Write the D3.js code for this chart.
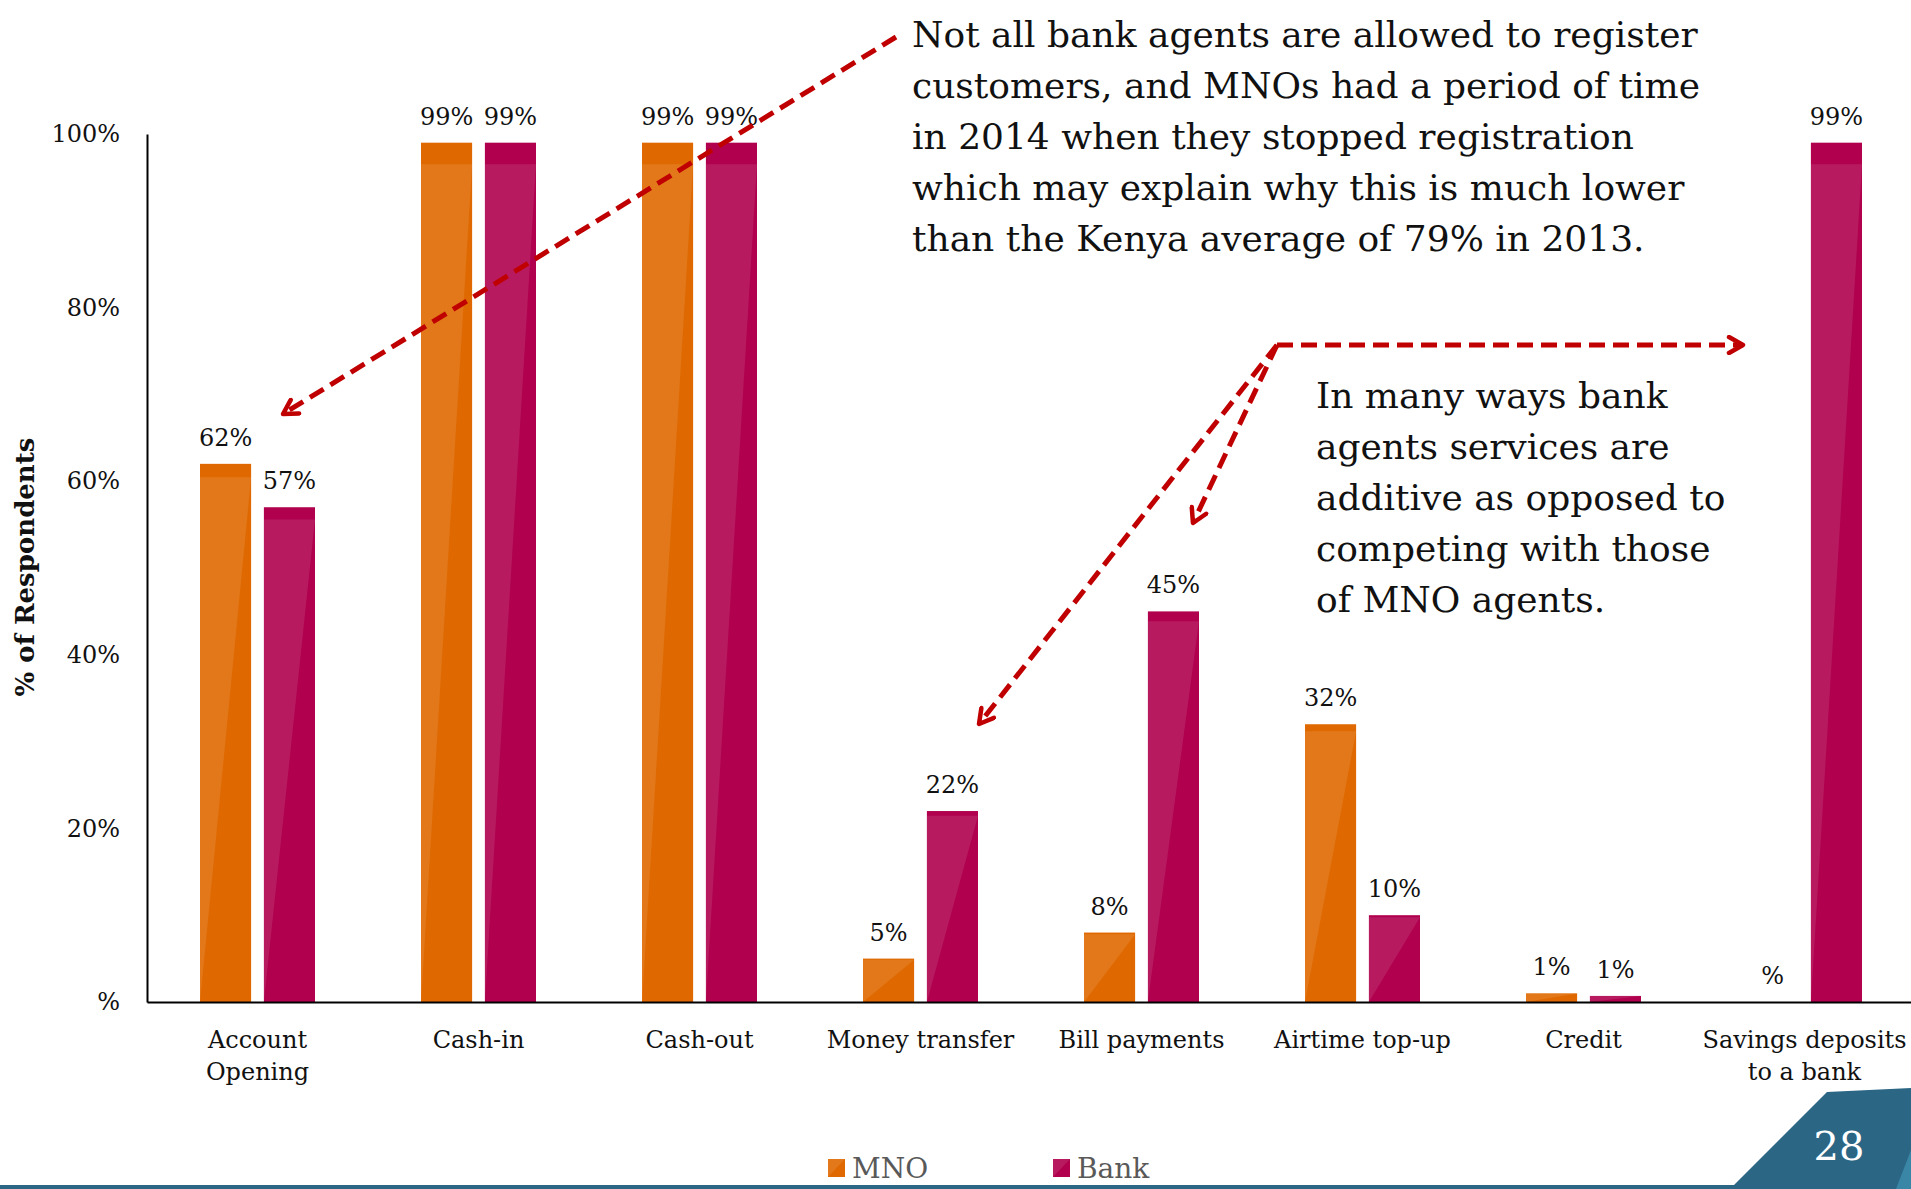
<!DOCTYPE html>
<html>
<head>
<meta charset="utf-8">
<script src="https://cdn.jsdelivr.net/npm/d3@7"></script>
<style>
  body { margin: 0; background: #fff; }
  svg { display: block; }
  text { font-family: "DejaVu Serif", Georgia, serif; }
</style>
</head>
<body>
<div id="chart"></div>
<script>
// data
var categories = ["Account\nOpening", "Cash-in", "Cash-out", "Money transfer",
                  "Bill payments", "Airtime top-up", "Credit", "Savings deposits\nto a bank"];
var seriesNames = ["MNO", "Bank"];
var mnoValues = [62, 99, 99, 5, 8, 32, 1, 0];
var bankValues = [57, 99, 99, 22, 45, 10, 0.7, 99];
var yTicks = [0, 20, 40, 60, 80, 100];

var note1 = ["Not all bank agents are allowed to register",
             "customers, and MNOs had a period of time",
             "in 2014 when they stopped registration",
             "which may explain why this is much lower",
             "than the Kenya average of 79% in 2013."];
var note2 = ["In many ways bank",
             "agents services are",
             "additive as opposed to",
             "competing with those",
             "of MNO agents."];

var colors = {MNO: "#df6900", Bank: "#b0004e"};

var W = 1911, H = 1189;
var plotLeft = 147, plotTop = 134, plotBottom = 1002, step = 221;

var rows = categories.map(function(c, i) {
    return {cat: c, MNO: mnoValues[i], Bank: bankValues[i]};
});

var svg = d3.select("#chart").append("svg")
    .attr("width", W)
    .attr("height", H);

var x0 = d3.scaleBand()
    .domain(categories)
    .range([plotLeft, plotLeft + step * categories.length])
    .padding(0);
var x1 = d3.scaleBand()
    .domain(seriesNames)
    .range([0, 115])
    .paddingInner(0.2);
var y = d3.scaleLinear().domain([0, 100]).range([plotBottom, plotTop]);

function pct(v) {
    var r = Math.round(v);
    return r === 0 ? "%" : r + "%";
}

// bars
var groups = svg.selectAll("g.cat")
    .data(rows)
    .enter().append("g")
    .attr("class", "cat")
    .attr("transform", function(d) {
        return "translate(" + (x0(d.cat) + (x0.bandwidth() - 115) / 2) + ",0)";
    });

var bars = groups.selectAll("g.bar")
    .data(function(d) {
        return seriesNames.map(function(s) { return {key: s, value: d[s]}; });
    })
    .enter().append("g")
    .attr("class", "bar");

bars.append("rect")
    .attr("x", d => x1(d.key))
    .attr("y", d => y(d.value))
    .attr("width", x1.bandwidth())
    .attr("height", d => y(0) - y(d.value))
    .style("fill", d => colors[d.key]);

// glossy triangle on each bar
bars.filter(d => d.value > 0).append("path")
    .attr("d", function(d) {
        var a = x1(d.key), b = a + x1.bandwidth();
        var h = y(0) - y(d.value);
        var t = y(d.value) + h * 0.025;
        return "M" + a + "," + t + "L" + b + "," + t + "L" + a + "," + y(0) + "Z";
    })
    .style("fill", "#fff")
    .style("opacity", 0.1);

bars.append("text")
    .attr("x", d => x1(d.key) + x1.bandwidth() / 2)
    .attr("y", d => y(d.value) - 18)
    .attr("text-anchor", "middle")
    .style("font-size", "24px")
    .style("fill", "#111")
    .text(d => pct(d.value));

// y axis
var yAxis = svg.append("g")
    .attr("transform", "translate(" + plotLeft + ",0)")
    .call(d3.axisLeft(y).tickValues(yTicks).tickSize(0).tickPadding(27)
        .tickFormat(d => d === 0 ? "%" : d + "%"));
yAxis.select(".domain").attr("stroke", "#000").attr("stroke-width", 2);
yAxis.selectAll("text")
    .style("font-family", "DejaVu Serif")
    .style("font-size", "24px")
    .style("fill", "#111");

// x axis
var xAxis = svg.append("g")
    .attr("transform", "translate(0," + plotBottom + ")")
    .call(d3.axisBottom(x0).tickSize(0).tickSizeOuter(0));
xAxis.select(".domain").attr("stroke", "#000").attr("stroke-width", 2);
xAxis.selectAll(".tick text").each(function(d) {
    var t = d3.select(this).text(null)
        .attr("y", 0).attr("dy", null)
        .style("font-family", "DejaVu Serif")
        .style("font-size", "24px")
        .style("fill", "#111");
    d.split("\n").forEach(function(line, i) {
        t.append("tspan").attr("x", 0).attr("y", 46 + i * 32).text(line);
    });
});

// y title
svg.append("text")
    .attr("transform", "translate(34,567) rotate(-90)")
    .attr("text-anchor", "middle")
    .style("font-size", "26px")
    .style("font-weight", "bold")
    .style("fill", "#111")
    .text("% of Respondents");

// annotations
function block(lines, x, yy) {
    var t = svg.append("text")
        .style("font-size", "36px")
        .style("fill", "#111");
    lines.forEach(function(l, i) {
        t.append("tspan").attr("x", x).attr("y", yy + i * 51).text(l);
    });
}
block(note1, 912, 47);
block(note2, 1316, 408);

svg.append("defs").append("marker")
    .attr("id", "head")
    .attr("viewBox", "0 0 20 20")
    .attr("refX", 17).attr("refY", 10)
    .attr("markerWidth", 20).attr("markerHeight", 20)
    .attr("markerUnits", "userSpaceOnUse")
    .attr("orient", "auto")
    .append("path")
    .attr("d", "M3,2 L17,10 L3,18")
    .attr("fill", "none")
    .attr("stroke", "#c00000")
    .attr("stroke-width", 4.5)
    .attr("stroke-linecap", "round")
    .attr("stroke-linejoin", "round");

var arrows = [
    [[896, 37], [283, 414]],
    [[1277, 345], [1743, 345]],
    [[1277, 345], [979, 724]],
    [[1277, 345], [1193, 523]]
];
svg.selectAll("line.arrow")
    .data(arrows)
    .enter().append("line")
    .attr("class", "arrow")
    .attr("x1", d => d[0][0]).attr("y1", d => d[0][1])
    .attr("x2", d => d[1][0]).attr("y2", d => d[1][1])
    .attr("stroke", "#c00000")
    .attr("stroke-width", 5)
    .attr("stroke-dasharray", "16,8")
    .attr("marker-end", "url(#head)");

// legend
var legend = svg.selectAll("g.legend")
    .data(seriesNames)
    .enter().append("g")
    .attr("class", "legend")
    .attr("transform", (d, i) => "translate(" + (828 + i * 225) + ",1159)");
legend.append("rect")
    .attr("width", 17).attr("height", 18)
    .style("fill", d => colors[d]);
legend.append("path")
    .attr("d", "M0,0 L17,0 L0,18 Z")
    .style("fill", "#fff").style("opacity", 0.1);
legend.append("text")
    .attr("x", 24).attr("y", 19)
    .style("font-size", "28px")
    .style("fill", "#595959")
    .text(d => d);

// footer
svg.append("rect")
    .attr("x", 0).attr("y", 1185)
    .attr("width", W).attr("height", 4)
    .style("fill", "#2b6685");
svg.append("path")
    .attr("d", "M1730,1189 L1827,1092 L1911,1088 L1911,1189 Z")
    .style("fill", "#2b6685");
svg.append("path")
    .attr("d", "M1896,1189 L1911,1150 L1911,1189 Z")
    .style("fill", "#3a86a6");
svg.append("text")
    .attr("x", 1839).attr("y", 1160)
    .attr("text-anchor", "middle")
    .style("font-size", "40px")
    .style("fill", "#fff")
    .text("28");
</script>
</body>
</html>
